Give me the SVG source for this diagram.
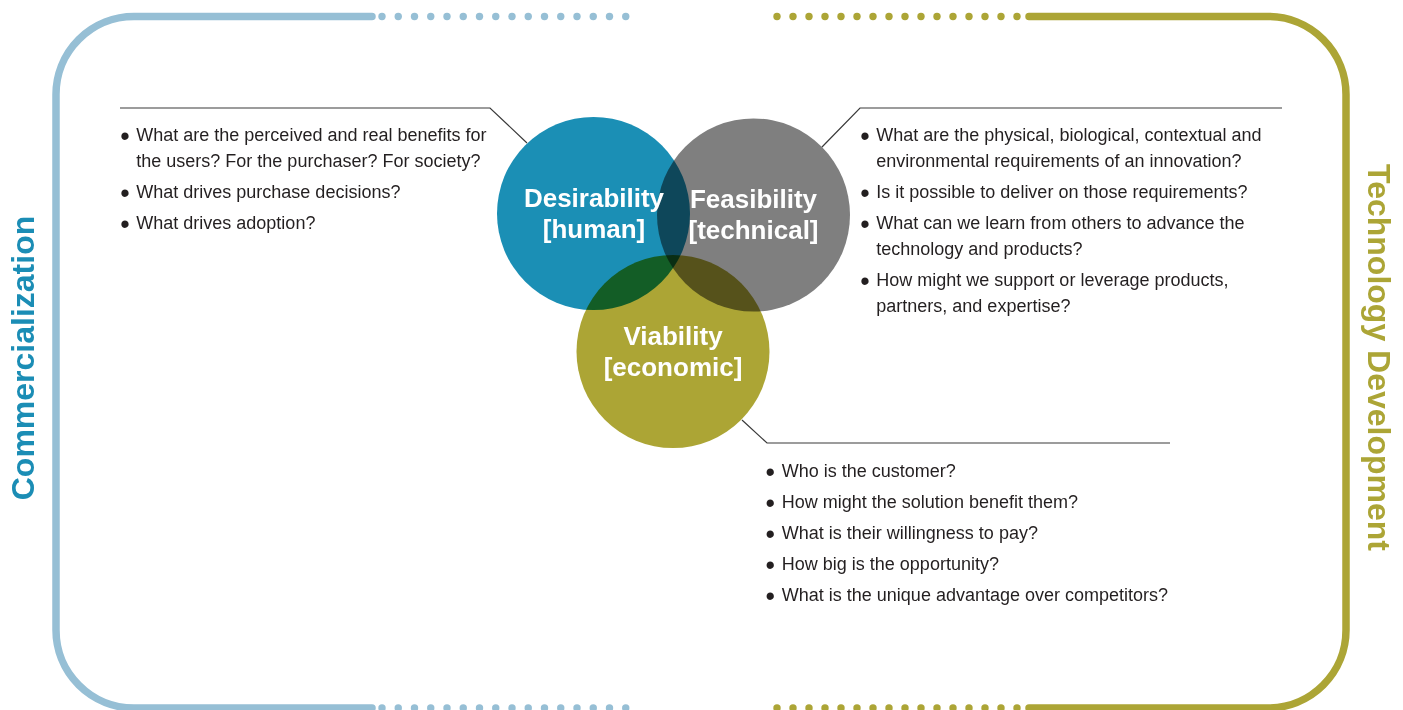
<svg xmlns="http://www.w3.org/2000/svg" width="1403" height="710" viewBox="0 0 1403 710">
<defs>
<style>
.frameL{fill:none;stroke:#96bfd5;stroke-width:7.5;stroke-linecap:round}
.frameR{fill:none;stroke:#aca536;stroke-width:7.5;stroke-linecap:round}
.dotL{fill:#96bfd5}
.dotR{fill:#aca536}
.circ{mix-blend-mode:multiply}
.lbl{font-family:"Liberation Sans",Arial,sans-serif;font-weight:bold;font-size:26px;fill:#ffffff;text-anchor:middle}
.q{font-family:"Liberation Sans",Arial,sans-serif;font-size:18px;fill:#231f20}
.b{font-size:27px}
.lead{fill:none;stroke:#3a3a3a;stroke-width:1.2}
.side{font-family:"Liberation Sans",Arial,sans-serif;font-weight:bold;font-size:32px;text-anchor:middle}
</style>
</defs>
<rect width="1403" height="710" fill="#ffffff"/>

<g id="frame-left">
<path class="frameL" d="M372 16.5 H134 A78 78 0 0 0 56 94.5 V630 A78 78 0 0 0 134 708 H372"/>
<g class="dotL">
<circle cx="382" cy="16.5" r="3.7"/><circle cx="398.25" cy="16.5" r="3.7"/><circle cx="414.5" cy="16.5" r="3.7"/><circle cx="430.75" cy="16.5" r="3.7"/><circle cx="447" cy="16.5" r="3.7"/><circle cx="463.25" cy="16.5" r="3.7"/><circle cx="479.5" cy="16.5" r="3.7"/><circle cx="495.75" cy="16.5" r="3.7"/><circle cx="512" cy="16.5" r="3.7"/><circle cx="528.25" cy="16.5" r="3.7"/><circle cx="544.5" cy="16.5" r="3.7"/><circle cx="560.75" cy="16.5" r="3.7"/><circle cx="577" cy="16.5" r="3.7"/><circle cx="593.25" cy="16.5" r="3.7"/><circle cx="609.5" cy="16.5" r="3.7"/><circle cx="625.75" cy="16.5" r="3.7"/>
<circle cx="382" cy="708" r="3.7"/><circle cx="398.25" cy="708" r="3.7"/><circle cx="414.5" cy="708" r="3.7"/><circle cx="430.75" cy="708" r="3.7"/><circle cx="447" cy="708" r="3.7"/><circle cx="463.25" cy="708" r="3.7"/><circle cx="479.5" cy="708" r="3.7"/><circle cx="495.75" cy="708" r="3.7"/><circle cx="512" cy="708" r="3.7"/><circle cx="528.25" cy="708" r="3.7"/><circle cx="544.5" cy="708" r="3.7"/><circle cx="560.75" cy="708" r="3.7"/><circle cx="577" cy="708" r="3.7"/><circle cx="593.25" cy="708" r="3.7"/><circle cx="609.5" cy="708" r="3.7"/><circle cx="625.75" cy="708" r="3.7"/>
</g>
<text class="side" fill="#1b8db5" transform="translate(33.5 358) rotate(-90)">Commercialization</text>
</g>

<g id="frame-right">
<path class="frameR" d="M1029 16.5 H1268 A78 78 0 0 1 1346 94.5 V630 A78 78 0 0 1 1268 708 H1029"/>
<g class="dotR">
<circle cx="777" cy="16.5" r="3.7"/><circle cx="793" cy="16.5" r="3.7"/><circle cx="809" cy="16.5" r="3.7"/><circle cx="825" cy="16.5" r="3.7"/><circle cx="841" cy="16.5" r="3.7"/><circle cx="857" cy="16.5" r="3.7"/><circle cx="873" cy="16.5" r="3.7"/><circle cx="889" cy="16.5" r="3.7"/><circle cx="905" cy="16.5" r="3.7"/><circle cx="921" cy="16.5" r="3.7"/><circle cx="937" cy="16.5" r="3.7"/><circle cx="953" cy="16.5" r="3.7"/><circle cx="969" cy="16.5" r="3.7"/><circle cx="985" cy="16.5" r="3.7"/><circle cx="1001" cy="16.5" r="3.7"/><circle cx="1017" cy="16.5" r="3.7"/>
<circle cx="777" cy="708" r="3.7"/><circle cx="793" cy="708" r="3.7"/><circle cx="809" cy="708" r="3.7"/><circle cx="825" cy="708" r="3.7"/><circle cx="841" cy="708" r="3.7"/><circle cx="857" cy="708" r="3.7"/><circle cx="873" cy="708" r="3.7"/><circle cx="889" cy="708" r="3.7"/><circle cx="905" cy="708" r="3.7"/><circle cx="921" cy="708" r="3.7"/><circle cx="937" cy="708" r="3.7"/><circle cx="953" cy="708" r="3.7"/><circle cx="969" cy="708" r="3.7"/><circle cx="985" cy="708" r="3.7"/><circle cx="1001" cy="708" r="3.7"/><circle cx="1017" cy="708" r="3.7"/>
</g>
<text class="side" fill="#aca536" transform="translate(1368 357.5) rotate(90)">Technology Development</text>
</g>

<g id="connectors">
<polyline class="lead" points="120,108 490,108 527,143"/>
<polyline class="lead" points="1282,108 860,108 822,147"/>
<polyline class="lead" points="742,420 767,443 1170,443"/>
</g>

<g id="node-feasibility">
<circle class="circ" cx="753.5" cy="215" r="96.5" fill="#7f7f7f"/>
<text class="lbl" x="753.5" y="208">Feasibility</text>
<text class="lbl" x="753.5" y="239">[technical]</text>
</g>
<g id="node-desirability">
<circle class="circ" cx="593.5" cy="213.5" r="96.5" fill="#1b8fb5"/>
<text class="lbl" x="594" y="207">Desirability</text>
<text class="lbl" x="594" y="238">[human]</text>
</g>
<g id="node-viability">
<circle class="circ" cx="673" cy="351.5" r="96.5" fill="#aca535"/>
<text class="lbl" x="673" y="345">Viability</text>
<text class="lbl" x="673" y="376">[economic]</text>
</g>

<g id="questions-desirability">
<text class="q" y="140.5"><tspan class="b" x="120.3" dy="4.4">•</tspan><tspan x="136.3" y="140.5">What are the perceived and real benefits for</tspan></text>
<text class="q" x="136.3" y="166.5">the users? For the purchaser? For society?</text>
<text class="q" y="197.5"><tspan class="b" x="120.3" dy="4.4">•</tspan><tspan x="136.3" y="197.5">What drives purchase decisions?</tspan></text>
<text class="q" y="228.5"><tspan class="b" x="120.3" dy="4.4">•</tspan><tspan x="136.3" y="228.5">What drives adoption?</tspan></text>
</g>

<g id="questions-feasibility">
<text class="q" y="140.5"><tspan class="b" x="860.3" dy="4.4">•</tspan><tspan x="876.3" y="140.5">What are the physical, biological, contextual and</tspan></text>
<text class="q" x="876.3" y="166.5">environmental requirements of an innovation?</text>
<text class="q" y="197.5"><tspan class="b" x="860.3" dy="4.4">•</tspan><tspan x="876.3" y="197.5">Is it possible to deliver on those requirements?</tspan></text>
<text class="q" y="228.5"><tspan class="b" x="860.3" dy="4.4">•</tspan><tspan x="876.3" y="228.5">What can we learn from others to advance the</tspan></text>
<text class="q" x="876.3" y="254.5">technology and products?</text>
<text class="q" y="285.5"><tspan class="b" x="860.3" dy="4.4">•</tspan><tspan x="876.3" y="285.5">How might we support or leverage products,</tspan></text>
<text class="q" x="876.3" y="311.5">partners, and expertise?</text>
</g>

<g id="questions-viability">
<text class="q" y="476.5"><tspan class="b" x="765.5" dy="4.4">•</tspan><tspan x="781.8" y="476.5">Who is the customer?</tspan></text>
<text class="q" y="507.5"><tspan class="b" x="765.5" dy="4.4">•</tspan><tspan x="781.8" y="507.5">How might the solution benefit them?</tspan></text>
<text class="q" y="538.5"><tspan class="b" x="765.5" dy="4.4">•</tspan><tspan x="781.8" y="538.5">What is their willingness to pay?</tspan></text>
<text class="q" y="569.5"><tspan class="b" x="765.5" dy="4.4">•</tspan><tspan x="781.8" y="569.5">How big is the opportunity?</tspan></text>
<text class="q" y="600.5"><tspan class="b" x="765.5" dy="4.4">•</tspan><tspan x="781.8" y="600.5">What is the unique advantage over competitors?</tspan></text>
</g>
</svg>
